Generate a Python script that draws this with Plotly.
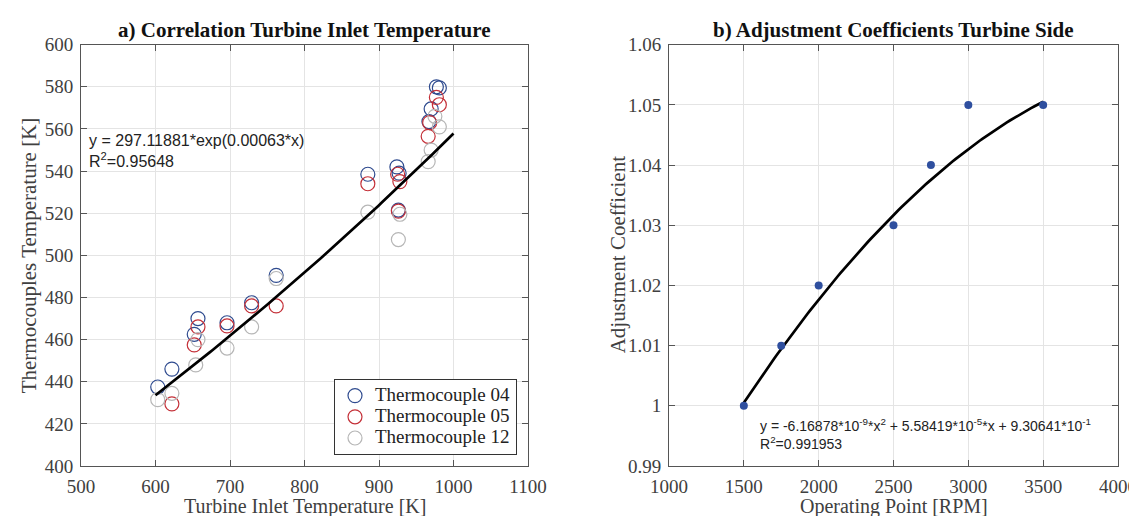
import numpy as np
import plotly.graph_objects as go

# ---------- data: panel a ----------
tc04_x = [603, 622, 652, 657, 696, 729, 762, 885, 924, 927, 926, 967, 970, 977, 981]
tc04_y = [437.5, 446, 462.5, 470, 468, 477.5, 490.5, 538.5, 542, 539, 521.5, 563.5, 569.5, 580, 579.5]
tc05_x = [622, 652, 657, 696, 729, 762, 885, 925, 928, 926, 966, 968, 977, 981]
tc05_y = [429.5, 457.5, 466, 466.5, 476, 476, 534, 538.5, 535, 521, 556.5, 563, 575, 571.5]
tc12_x = [603, 622, 654, 657, 696, 729, 762, 885, 928, 926, 966, 970, 975, 981]
tc12_y = [431.5, 434.5, 448, 460, 456, 466, 489, 520.5, 519.5, 507.5, 544.5, 550, 566, 561]
fit_a_coef = (297.11881, 0.00063)
fit_a_range = (600, 1000)

# ---------- data: panel b ----------
rpm = [1500, 1750, 2000, 2500, 2750, 3000, 3500]
coef = [1.00, 1.01, 1.02, 1.03, 1.04, 1.05, 1.05]
fit_b_coef = (-6.16878e-9, 5.58419e-5, 9.30641e-1)

W, H = 1137, 516
serif = "Liberation Serif, Times New Roman, serif"
sans = "Liberation Sans, Arial, sans-serif"

def px(xp):
    return xp / W

def py(yp):
    return (H - yp) / H

fig = go.Figure()

for xs, ys, name, col in [(tc04_x, tc04_y, "Thermocouple 04", "#2f4b8f"),
                          (tc05_x, tc05_y, "Thermocouple 05", "#c43038"),
                          (tc12_x, tc12_y, "Thermocouple 12", "#b6b6b6")]:
    fig.add_trace(go.Scatter(x=xs, y=ys, mode="markers",
                             name='<span style="font-size:19px">%s</span>' % name,
                             marker=dict(symbol="circle-open", size=14, color=col, line=dict(width=1.2)),
                             xaxis="x", yaxis="y"))

xa = np.linspace(fit_a_range[0], fit_a_range[1], 100)
ya = fit_a_coef[0] * np.exp(fit_a_coef[1] * xa)
fig.add_trace(go.Scatter(x=xa, y=ya, mode="lines", line=dict(color="black", width=2.7),
                         showlegend=False, xaxis="x", yaxis="y"))

xb = np.linspace(min(rpm), max(rpm), 100)
yb = fit_b_coef[0] * xb**2 + fit_b_coef[1] * xb + fit_b_coef[2]
fig.add_trace(go.Scatter(x=xb, y=yb, mode="lines", line=dict(color="black", width=2.7),
                         showlegend=False, xaxis="x2", yaxis="y2"))
fig.add_trace(go.Scatter(x=rpm, y=coef, mode="markers", marker=dict(size=8, color="#2f4f9f"),
                         showlegend=False, xaxis="x2", yaxis="y2"))

ydom = [py(458), py(36.7)]
axcommon = dict(showline=True, mirror="ticks", linecolor="#555555", linewidth=1, ticks="inside",
                ticklen=6, tickcolor="#555555", gridcolor="#e4e4e4", zeroline=False,
                automargin=False, ticklabelstandoff=3,
                tickfont=dict(family=serif, size=19, color="#404040"))

fig.update_layout(
    width=W, height=H, margin=dict(l=0, r=0, t=0, b=0),
    plot_bgcolor="white", paper_bgcolor="white",
    xaxis=dict(domain=[px(73), px(520)], range=[500, 1100], dtick=100, anchor="y", **axcommon),
    yaxis=dict(domain=ydom, range=[400, 600], dtick=20, anchor="x", **axcommon),
    xaxis2=dict(domain=[px(661), px(1110)], range=[1000, 4000], dtick=500, anchor="y2", **axcommon),
    yaxis2=dict(domain=ydom, range=[0.99, 1.06], anchor="x2",
                tickvals=[0.99, 1.0, 1.01, 1.02, 1.03, 1.04, 1.05, 1.06],
                ticktext=["0.99", "1", "1.01", "1.02", "1.03", "1.04", "1.05", "1.06"], **axcommon),
    legend=dict(x=px(326), y=py(371), xanchor="left", yanchor="top",
                bgcolor="white", bordercolor="#333333", borderwidth=1,
                font=dict(family=serif, size=14, color="#222222"),
                tracegroupgap=0, itemwidth=30),
)

ann = [
    dict(text="<b>a) Correlation Turbine Inlet Temperature</b>", x=px((73 + 520) / 2), y=py(22),
         yanchor="middle", font=dict(family=serif, size=21, color="#111111")),
    dict(text="<b>b) Adjustment Coefficients Turbine Side</b>", x=px((661 + 1110) / 2), y=py(22),
         yanchor="middle", font=dict(family=serif, size=21, color="#111111")),
    dict(text="Turbine Inlet Temperature [K]", x=px((73 + 520) / 2), y=py(498), yanchor="middle",
         font=dict(family=serif, size=20, color="#404040")),
    dict(text="Operating Point [RPM]", x=px((661 + 1110) / 2), y=py(498), yanchor="middle",
         font=dict(family=serif, size=20, color="#404040")),
    dict(text="Thermocouples Temperature [K]", x=px(21), y=py((36.7 + 458) / 2), textangle=-90,
         xanchor="center", yanchor="middle", font=dict(family=serif, size=21, color="#404040")),
    dict(text="Adjustment Coefficient", x=px(610), y=py((36.7 + 458) / 2), textangle=-90,
         xanchor="center", yanchor="middle", font=dict(family=serif, size=21, color="#404040")),
    dict(text="y = 297.11881*exp(0.00063*x)<br>R<sup>2</sup>=0.95648", x=px(79), y=py(122),
         xanchor="left", yanchor="top", align="left",
         font=dict(family=sans, size=16, color="#222222")),
    dict(text="y = -6.16878*10<sup>-9</sup>*x<sup>2</sup> + 5.58419*10<sup>-5</sup>*x + 9.30641*10<sup>-1</sup><br>R<sup>2</sup>=0.991953",
         x=px(750), y=py(406), xanchor="left", yanchor="top", align="left",
         font=dict(family=sans, size=14, color="#222222")),
]
for a in ann:
    a.setdefault("xanchor", "center")
    a.update(xref="paper", yref="paper", showarrow=False)
fig.update_layout(annotations=ann)

fig.write_html("out.html")
